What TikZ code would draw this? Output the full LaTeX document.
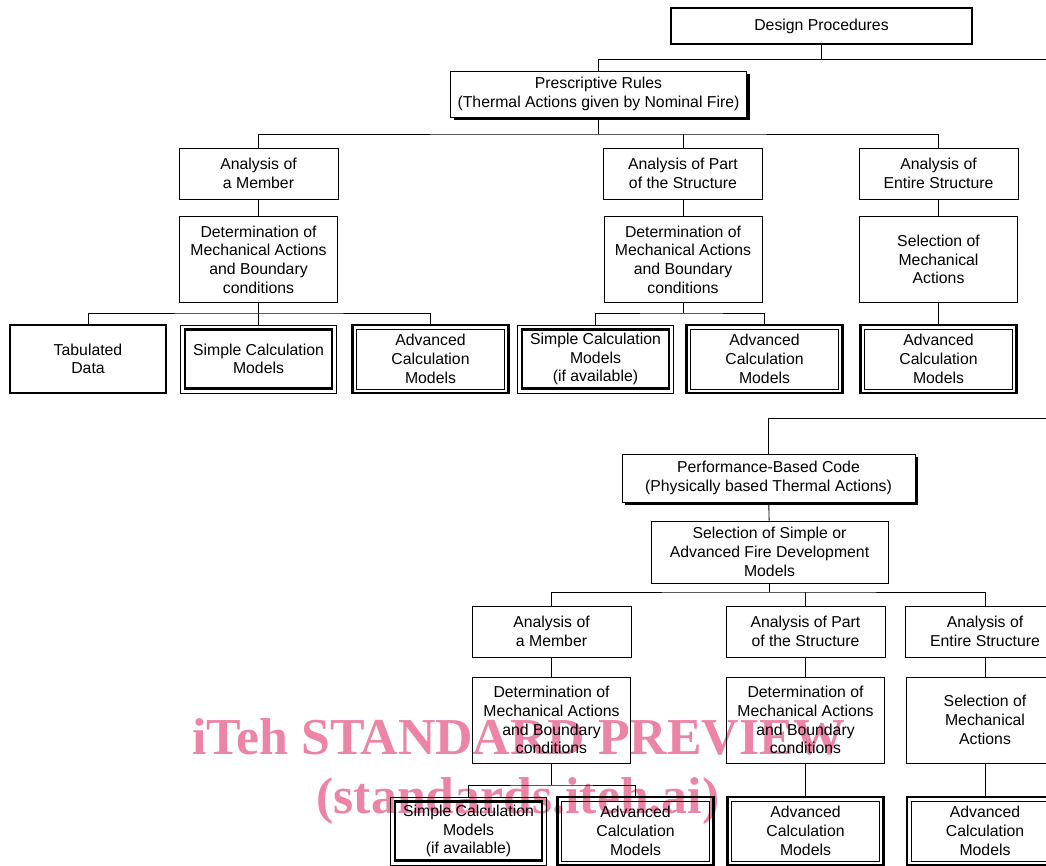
\documentclass[tikz,border=0pt]{standalone}
\usepackage{fontspec}
\setmainfont{Liberation Sans}
\newfontfamily\wmfont{Liberation Serif}
\usetikzlibrary{shadows}
\definecolor{wmpink}{RGB}{236,132,165}
\newcommand{\boxtext}{\fontsize{15.8}{18.7}\selectfont}

\begin{document}
\begin{tikzpicture}[x=1pt,y=-1pt]

\tikzstyle{box} = [draw=black, line width=0.9, inner sep=0, align=center,
    font=\boxtext]
\tikzstyle{heavy} = [box, line width=2.6]
\tikzstyle{shade} = [box, fill=white,
    drop shadow={shadow xshift=3pt, shadow yshift=-3pt, opacity=1, fill=black}]
\tikzstyle{small} = [box, minimum width=159, minimum height=51]
\tikzstyle{tall} = [box, minimum width=158, minimum height=86]
\tikzstyle{leaf} = [minimum width=156, minimum height=68]
\tikzstyle{thinthick} = [box, leaf, path picture={\draw[line width=2.6]
    ([shift={(4.5pt,-4.5pt)}]path picture bounding box.north west) rectangle
    ([shift={(-4.5pt,4.5pt)}]path picture bounding box.south east);}]
\tikzstyle{thickthin} = [box, leaf, line width=2.6, path picture={\draw[line width=0.9]
    ([shift={(4pt,-4pt)}]path picture bounding box.north west) rectangle
    ([shift={(-4pt,4pt)}]path picture bounding box.south east);}]
\tikzstyle{wmark} = [inner sep=0, text=wmpink,
    font=\wmfont\bfseries\fontsize{51.8}{60}\selectfont]

\useasboundingbox (0,0) rectangle (1046,866);

% watermark (behind)
\node[wmark] (wm1) at (519,737) {iTeh STANDARD PREVIEW};
\node[wmark] (wm2) at (518,801) {(standards.iteh.ai)};

% =========================
% top
% =========================
\node[heavy, minimum width=301, minimum height=36] (design) at (821.5,26) {Design Procedures};
\node[shade, minimum width=296, minimum height=46] (presc) at (598.5,94) {Prescriptive Rules\\(Thermal Actions given by Nominal Fire)};

\coordinate (b0) at (1060,59);
\draw[line width=0.9] (presc.north) |- (b0);
\draw[line width=0.9] (design.south) -- (design.south |- b0);

% =========================
% prescriptive rules branch
% =========================
\node[small] (amem) at (258.5,173.5) {Analysis of\\a Member};
\node[small] (apart) at (683,173.5) {Analysis of Part\\of the Structure};
\node[small] (aent) at (938.5,173.5) {Analysis of\\Entire Structure};

\node[tall] (dmem) at (258.5,259.5) {Determination of\\Mechanical Actions\\and Boundary\\conditions};
\node[tall] (dpart) at (683,259.5) {Determination of\\Mechanical Actions\\and Boundary\\conditions};
\node[tall] (selm) at (938.5,259.5) {Selection of\\Mechanical\\Actions};

\node[heavy, leaf] (tab) at (88,359) {Tabulated\\Data};
\node[thinthick] (sc1) at (258.5,359) {Simple Calculation\\Models};
\node[thickthin] (ac1) at (430.5,359) {Advanced\\Calculation\\Models};
\node[thinthick] (sc2) at (595.5,359) {Simple Calculation\\Models\\(if available)};
\node[thickthin] (ac2) at (764.5,359) {Advanced\\Calculation\\Models};
\node[thickthin] (ac3) at (938.5,359) {Advanced\\Calculation\\Models};

\coordinate (b1) at (598.5,134);
\draw[line width=0.9] (presc.south) -- (b1);
\draw[line width=0.9] (amem.north) |- (b1) -| (aent.north);
\draw[line width=0.9] (apart.north) -- (apart.north |- b1);

\coordinate (b2) at (258.5,313);
\coordinate (b3) at (683,313);
\draw[line width=0.9] (dmem.south) -- (b2);
\draw[line width=0.9] (tab.north) |- (b2) -| (ac1.north);
\draw[line width=0.9] (sc1.north) -- (sc1.north |- b2);
\draw[line width=0.9] (dpart.south) -- (b3);
\draw[line width=0.9] (sc2.north) |- (b3) -| (ac2.north);

\foreach \a/\b in {amem/dmem, apart/dpart, aent/selm, selm/ac3}
    \draw[line width=0.9] (\a) -- (\b);

% =========================
% performance-based branch
% =========================
\node[shade, minimum width=293, minimum height=48] (perf) at (768.5,478) {Performance-Based Code\\(Physically based Thermal Actions)};
\node[box, minimum width=237, minimum height=62] (selsa) at (769.5,552) {Selection of Simple or\\Advanced Fire Development\\Models};

\node[small] (amem2) at (551.5,631.5) {Analysis of\\a Member};
\node[small] (apart2) at (805.5,631.5) {Analysis of Part\\of the Structure};
\node[small] (aent2) at (985,631.5) {Analysis of\\Entire Structure};

\node[tall] (dmem2) at (551.5,720) {Determination of\\Mechanical Actions\\and Boundary\\conditions};
\node[tall] (dpart2) at (805.5,720) {Determination of\\Mechanical Actions\\and Boundary\\conditions};
\node[tall] (selm2) at (985,720) {Selection of\\Mechanical\\Actions};

\node[thinthick] (sc4) at (468.5,831) {Simple Calculation\\Models\\(if available)};
\node[thickthin] (ac4) at (635.5,831) {Advanced\\Calculation\\Models};
\node[thickthin] (ac5) at (805.5,831) {Advanced\\Calculation\\Models};
\node[thickthin] (ac6) at (985,831) {Advanced\\Calculation\\Models};

\coordinate (b4) at (1060,418);
\draw[line width=0.9] (perf.north) |- (b4);

\coordinate (b5) at (769.5,592);
\draw[line width=0.9] (selsa.south) -- (b5);
\draw[line width=0.9] (amem2.north) |- (b5) -| (aent2.north);
\draw[line width=0.9] (apart2.north) -- (apart2.north |- b5);

\coordinate (b6) at (551.5,785);
\draw[line width=0.9] (dmem2.south) -- (b6);
\draw[line width=0.9] (sc4.north) |- (b6) -| (ac4.north);

\foreach \a/\b in {perf/selsa, amem2/dmem2, apart2/dpart2, aent2/selm2, dpart2/ac5, selm2/ac6}
    \draw[line width=0.9] (\a) -- (\b);

\end{tikzpicture}
\end{document}
